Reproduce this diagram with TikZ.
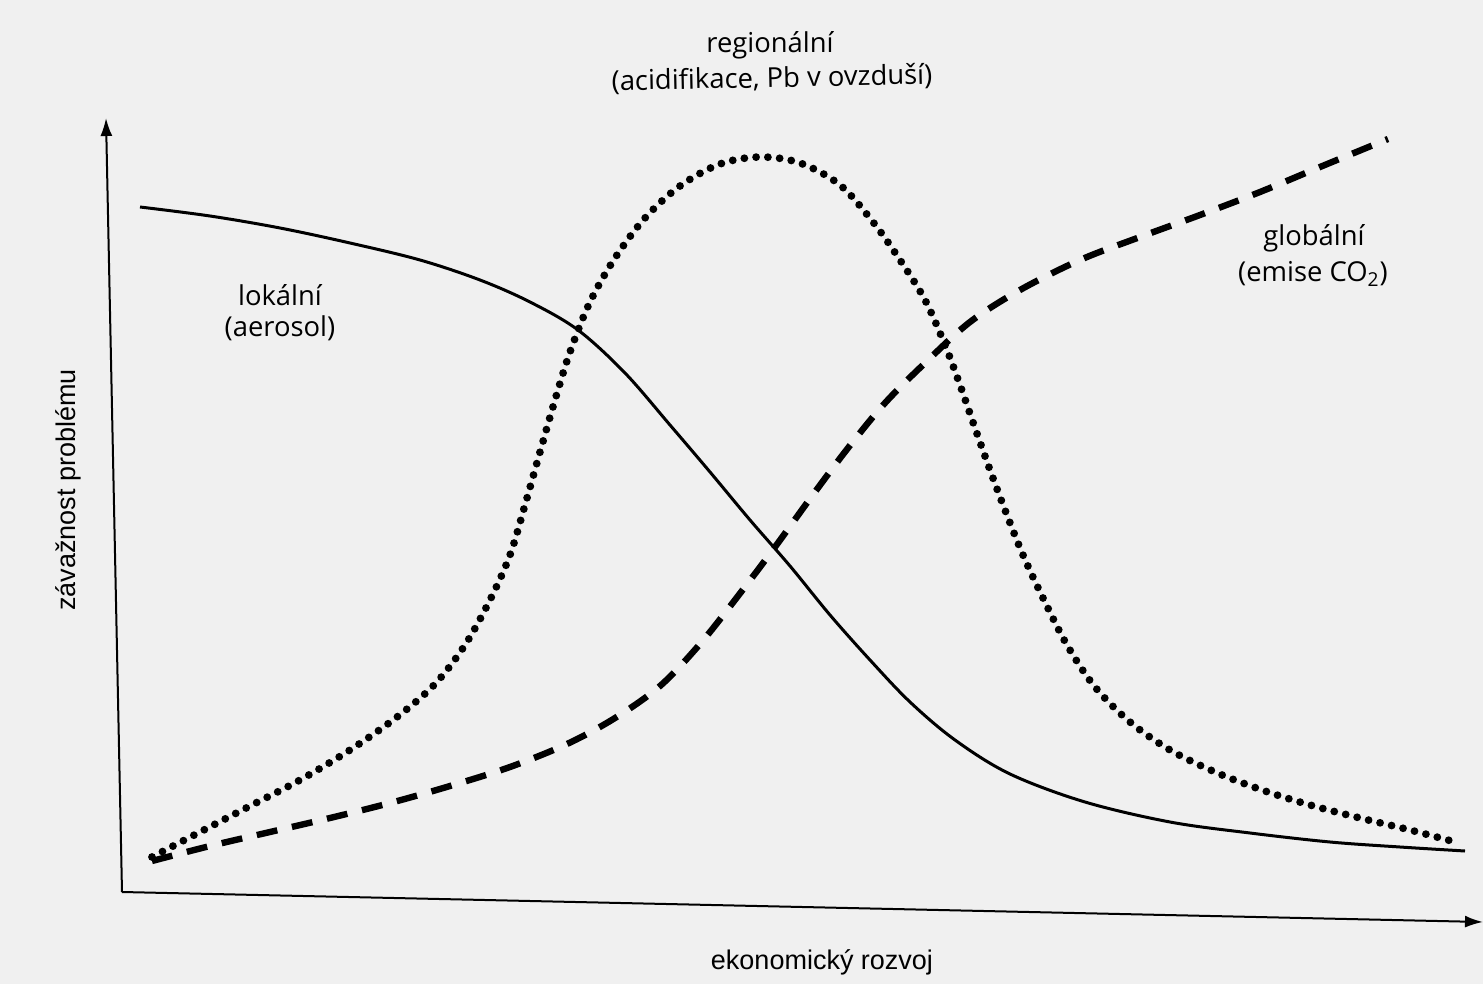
\documentclass[tikz,border=0pt]{standalone}
\usepackage{fontspec}
\usetikzlibrary{arrows.meta}
\setmainfont{Open Sans}
\newfontfamily\axisfont{Liberation Sans}
\begin{document}
\begin{tikzpicture}[x=0.5pt,y=-0.5pt,
  axisline/.style={line width=1pt,-{Latex[length=9pt,width=6pt]}},
  localcurve/.style={line width=1.5pt},
  regcurve/.style={line width=3.9pt,line cap=round,dash pattern=on 0pt off 5.9pt},
  globcurve/.style={line width=3.2pt,dash pattern=on 10.5pt off 7.5pt},
  lbl/.style={font=\fontsize{13.7}{16}\selectfont,align=center,inner sep=0pt},
  axlbl/.style={font=\axisfont\fontsize{13.5}{16}\selectfont,inner sep=0pt}]
\useasboundingbox (0,0) rectangle (1483,984);
\fill[black!6] (0,0) rectangle (1483,984);
\coordinate (O) at (122,892);
\coordinate (Ytip) at (106,118);
\coordinate (Xtip) at (1483,922);
\draw[axisline] (O) -- (Ytip);
\draw[axisline] (O) -- (Xtip);
% local (solid)
\draw[localcurve] plot[smooth,tension=0.55] coordinates {(140,207) (210,216) (280,228) (350,243) (420,260) (480,280) (530,302) (578,330) (625,373) (670,425) (710,472) (750,520) (790,566) (830,615) (870,660) (910,702) (955,740) (1010,774) (1085,802) (1170,822) (1250,833) (1330,842) (1400,847) (1465,851)};
% regional (dotted)
\draw[regcurve] plot[smooth,tension=0.55] coordinates {(152,857) (200,832) (250,806) (300,780) (350,750) (397,717) (435,684) (465,645) (490,600) (510,555) (525,505) (540,452) (555,400) (570,352) (590,302) (615,258) (645,218) (680,186) (720,164) (760,157) (800,163) (840,185) (873,222) (900,260) (925,300) (945,345) (960,385) (975,428) (990,470) (1005,510) (1023,555) (1043,598) (1067,645) (1095,687) (1130,722) (1170,750) (1215,772) (1262,790) (1310,805) (1360,818) (1410,830) (1459,843)};
% global (dashed)
\draw[globcurve] plot[smooth,tension=0.55] coordinates {(152,861) (210,846) (270,832) (330,818) (390,803) (450,786) (510,767) (567,744) (615,718) (660,686) (700,644) (738,596) (775,547) (812,496) (848,448) (885,403) (925,363) (970,322) (1020,290) (1080,260) (1140,237) (1200,215) (1260,192) (1320,167) (1388,139)};
\node[lbl] (reg1) at (770,45) {regionální};
\node[lbl,rotate=1.2] (reg2) at (772,79) {(acidifikace, Pb v ovzduší)};
\node[lbl] (loc1) at (280,295) {lokální};
\node[lbl] (loc2) at (280,328) {(aerosol)};
\node[lbl] (glo1) at (1314,238) {globální};
\node[lbl] (glo2) at (1313,274) {(emise CO\textsubscript{2})};
\node[axlbl,rotate=90] (ylab) at (68,490) {závažnost problému};
\node[axlbl] (xlab) at (822,962) {ekonomický rozvoj};
\end{tikzpicture}
\end{document}
